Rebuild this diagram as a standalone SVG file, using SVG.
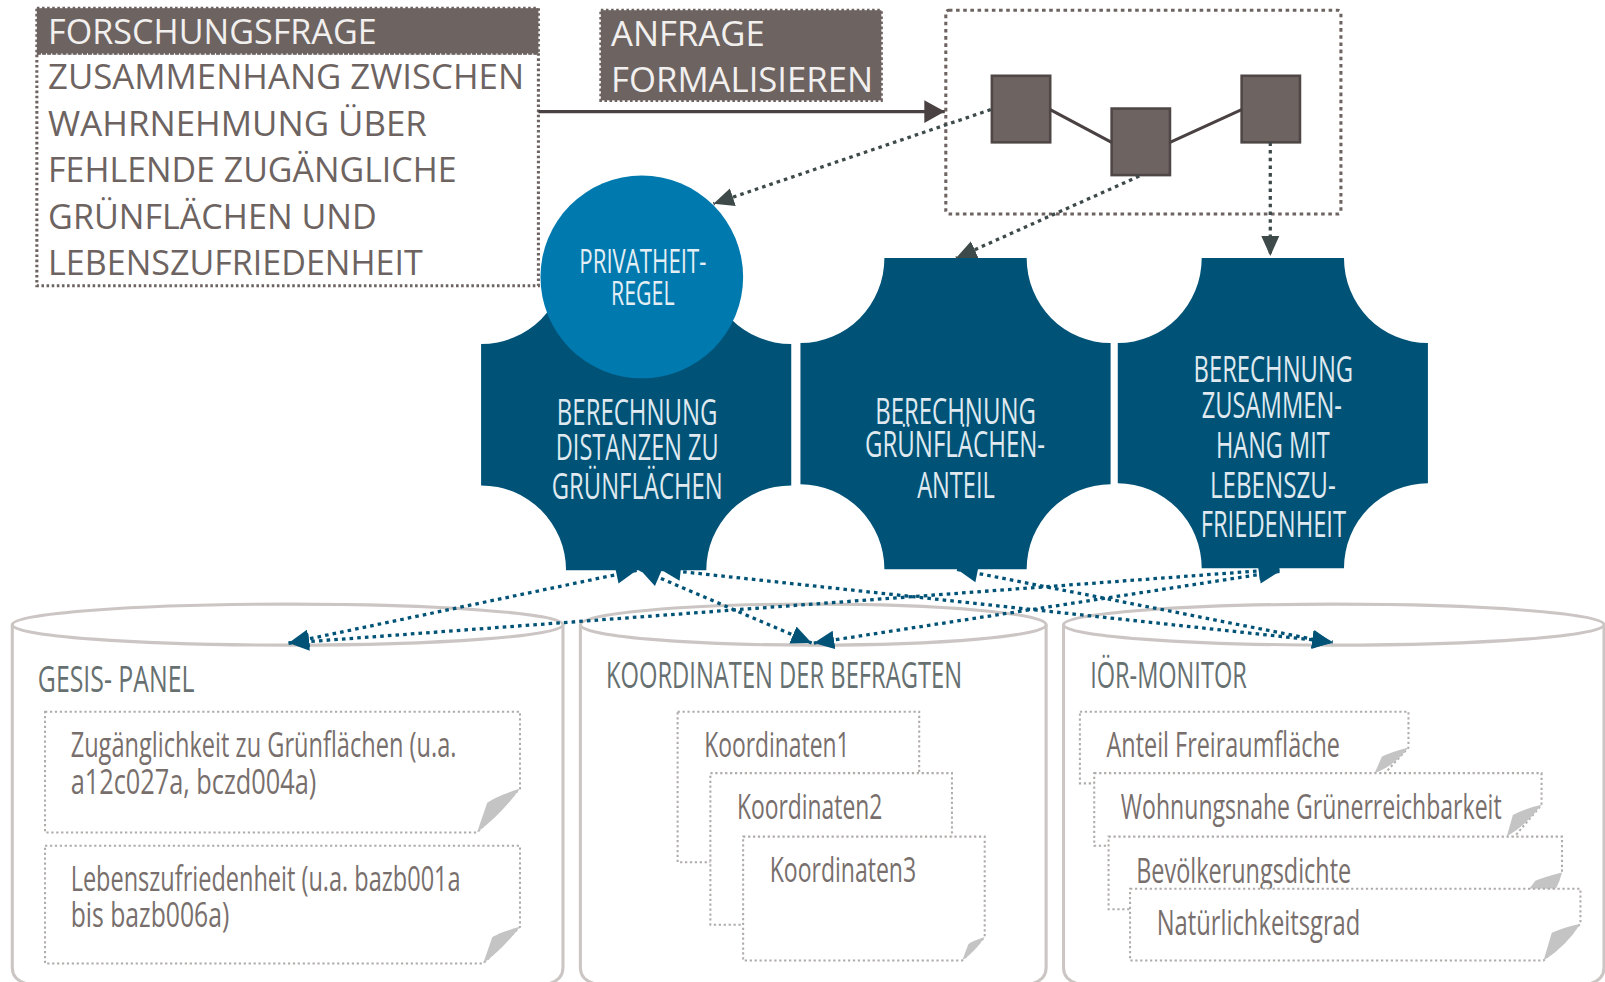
<svg xmlns="http://www.w3.org/2000/svg" width="1605" height="982" viewBox="0 0 1605 982">
<defs>
<marker id="hd" markerUnits="userSpaceOnUse" markerWidth="24" markerHeight="24" refX="20" refY="11" orient="auto"><path d="M0,0L20,11L0,22Z" fill="#4a4242"/></marker>
<marker id="ht" markerUnits="userSpaceOnUse" markerWidth="24" markerHeight="20" refX="20" refY="9" orient="auto"><path d="M0,0L20,9L0,18Z" fill="#3e4a4a"/></marker>
<marker id="hb" markerUnits="userSpaceOnUse" markerWidth="24" markerHeight="20" refX="20" refY="9" orient="auto"><path d="M0,0L20,9L0,18Z" fill="#005377"/></marker>
<marker id="hs" markerUnits="userSpaceOnUse" markerWidth="24" markerHeight="20" refX="0" refY="9" orient="auto"><path d="M20,0L0,9L20,18Z" fill="#005377"/></marker>
</defs>
<style>
text{font-family:"Open Sans","Liberation Sans",sans-serif}
.h{font-size:33px;font-weight:400;fill:#f2f0ef}
.b{font-size:33px;font-weight:400;fill:#6d6361}
.w{font-size:36px;font-weight:400;fill:#dfe9ef}
.s{font-size:32px;font-weight:400;fill:#e4eff5}
.t{font-size:35px;font-weight:400;fill:#667070}
.d{font-size:33px;font-weight:400;fill:#786f6d}
.box{fill:#fff;stroke:#6d6361;stroke-width:3;stroke-dasharray:2.5 2.5}
.hdr{fill:#6d6361;stroke:#6d6361;stroke-width:3;stroke-dasharray:2.5 2.5}
.big{fill:none;stroke:#6d6361;stroke-width:3;stroke-dasharray:3.5 3.5}
.sq{fill:#6d6361;stroke:#4f4646;stroke-width:2.5}
.pl{fill:#005377}
.cy{fill:#fff;stroke:#cbc6c4;stroke-width:3}
.doc{fill:#fff;stroke:#b0acaa;stroke-width:2;stroke-dasharray:2.2 2.6}
.curl{fill:#c4c4c4}
.ln{fill:none;stroke:#4a4242;stroke-width:3}
.dt{fill:none;stroke:#3e4a4a;stroke-width:3.2;stroke-dasharray:3.5 4}
.db{fill:none;stroke:#005377;stroke-width:3.2;stroke-dasharray:3.5 4}
</style>
<rect width="1605" height="982" fill="#fff"/>
<g transform="scale(1.0236,1.024)">
<g id="forschungsfrage">
<rect class="box" x="36" y="52" width="490" height="227"/>
<rect class="hdr" x="36" y="8" width="490" height="44"/>
<text class="h" x="47" y="43" textLength="321" lengthAdjust="spacingAndGlyphs">FORSCHUNGSFRAGE</text>
<text class="b" x="47" y="87" textLength="465" lengthAdjust="spacingAndGlyphs">ZUSAMMENHANG ZWISCHEN</text>
<text class="b" x="47" y="133" textLength="370" lengthAdjust="spacingAndGlyphs">WAHRNEHMUNG ÜBER</text>
<text class="b" x="47" y="178" textLength="399" lengthAdjust="spacingAndGlyphs">FEHLENDE ZUGÄNGLICHE</text>
<text class="b" x="47" y="224" textLength="321" lengthAdjust="spacingAndGlyphs">GRÜNFLÄCHEN UND</text>
<text class="b" x="47" y="269" textLength="366" lengthAdjust="spacingAndGlyphs">LEBENSZUFRIEDENHEIT</text>
</g>
<g id="anfrage">
<rect class="hdr" x="587" y="10" width="274" height="88"/>
<text class="h" x="597" y="45" textLength="150" lengthAdjust="spacingAndGlyphs">ANFRAGE</text>
<text class="h" x="597" y="90" textLength="256" lengthAdjust="spacingAndGlyphs">FORMALISIEREN</text>
</g>
<g id="anfrage-graph">
<rect class="big" x="924" y="10" width="386" height="199" rx="3"/>
<rect class="sq" x="969" y="74" width="57" height="65"/>
<rect class="sq" x="1086" y="106" width="57" height="65"/>
<rect class="sq" x="1213" y="74" width="57" height="65"/>
<path class="ln" d="M1026,107L1086,139M1143,139L1213,107"/>
</g>
<g id="berechnung-distanzen">
<path class="pl" d="M553,253H690A83,83 0 0 0 773,336V474A83,83 0 0 0 690,557H553A83,83 0 0 0 470,474V336A83,83 0 0 0 553,253Z"/>
<text class="w" x="544" y="415" textLength="157" lengthAdjust="spacingAndGlyphs">BERECHNUNG</text>
<text class="w" x="543" y="449" textLength="159" lengthAdjust="spacingAndGlyphs">DISTANZEN ZU</text>
<text class="w" x="539" y="487" textLength="167" lengthAdjust="spacingAndGlyphs">GRÜNFLÄCHEN</text>
</g>
<g id="berechnung-anteil">
<path class="pl" d="M864,252H1003A82,83 0 0 0 1085,335V473A82,83 0 0 0 1003,556H864A82,83 0 0 0 782,473V335A82,83 0 0 0 864,252Z"/>
<text class="w" x="855" y="414" textLength="157" lengthAdjust="spacingAndGlyphs">BERECHNUNG</text>
<text class="w" x="845" y="446" textLength="176" lengthAdjust="spacingAndGlyphs">GRÜNFLÄCHEN-</text>
<text class="w" x="896" y="486" textLength="76" lengthAdjust="spacingAndGlyphs">ANTEIL</text>
</g>
<g id="berechnung-zusammenhang">
<path class="pl" d="M1174,252H1313A82,83 0 0 0 1395,335V472A82,83 0 0 0 1313,555H1174A82,83 0 0 0 1092,472V335A82,83 0 0 0 1174,252Z"/>
<text class="w" x="1166" y="373" textLength="156" lengthAdjust="spacingAndGlyphs">BERECHNUNG</text>
<text class="w" x="1174" y="408" textLength="137" lengthAdjust="spacingAndGlyphs">ZUSAMMEN-</text>
<text class="w" x="1188" y="447" textLength="111" lengthAdjust="spacingAndGlyphs">HANG MIT</text>
<text class="w" x="1182" y="486" textLength="123" lengthAdjust="spacingAndGlyphs">LEBENSZU-</text>
<text class="w" x="1173" y="524" textLength="142" lengthAdjust="spacingAndGlyphs">FRIEDENHEIT</text>
</g>
<g id="privatheit-regel">
<circle cx="627" cy="270.500" r="99" fill="#0079ae"/>
<text class="s" x="566" y="267" textLength="124" lengthAdjust="spacingAndGlyphs">PRIVATHEIT-</text>
<text class="s" x="597" y="298" textLength="62" lengthAdjust="spacingAndGlyphs">REGEL</text>
</g>
<g id="gesis-panel">
<path class="cy" d="M12,610V945Q12,959 32,962H530Q550,959 550,945V610"/>
<ellipse class="cy" cx="281" cy="610" rx="269" ry="20"/>
<text class="t" x="37" y="676" textLength="153" lengthAdjust="spacingAndGlyphs">GESIS- PANEL</text>
<path class="doc" d="M44,695H508V770L466,813H44Z"/>
<path class="curl" d="M508,770Q484,778 476,784L466,813Q490,795 508,770Z"/>
<text class="d" x="69" y="739" textLength="377" lengthAdjust="spacingAndGlyphs">Zugänglichkeit zu Grünflächen (u.a.</text>
<text class="d" x="69" y="775" textLength="240" lengthAdjust="spacingAndGlyphs">a12c027a, bczd004a)</text>
<path class="doc" d="M44,826H508V905L472,941H44Z"/>
<path class="curl" d="M508,905Q490,910 481,915L472,941Q492,926 508,905Z"/>
<text class="d" x="69" y="870" textLength="381" lengthAdjust="spacingAndGlyphs">Lebenszufriedenheit (u.a. bazb001a</text>
<text class="d" x="69" y="905" textLength="155" lengthAdjust="spacingAndGlyphs">bis bazb006a)</text>
</g>
<g id="koordinaten">
<path class="cy" d="M567,610V945Q567,959 587,962H1002Q1022,959 1022,945V610"/>
<ellipse class="cy" cx="794.500" cy="610" rx="227.500" ry="20"/>
<text class="t" x="592" y="672" textLength="348" lengthAdjust="spacingAndGlyphs">KOORDINATEN DER BEFRAGTEN</text>
<path class="doc" d="M662,695H898V842H662Z"/>
<text class="d" x="688" y="739" textLength="142" lengthAdjust="spacingAndGlyphs">Koordinaten1</text>
<path class="doc" d="M694,755H930V903H694Z"/>
<text class="d" x="720" y="800" textLength="142" lengthAdjust="spacingAndGlyphs">Koordinaten2</text>
<path class="doc" d="M726,817H962V915L940,938H726Z"/>
<path class="curl" d="M962,915Q950,919 946,922L940,938Q953,929 962,915Z"/>
<text class="d" x="752" y="861" textLength="143" lengthAdjust="spacingAndGlyphs">Koordinaten3</text>
</g>
<g id="ioer-monitor">
<path class="cy" d="M1039,610V945Q1039,959 1059,962H1547Q1567,959 1567,945V610"/>
<ellipse class="cy" cx="1303" cy="610" rx="264" ry="20"/>
<text class="t" x="1065" y="672" textLength="153" lengthAdjust="spacingAndGlyphs">IÖR-MONITOR</text>
<path class="doc" d="M1055,695H1376V730L1344,765H1055Z"/>
<path class="curl" d="M1376,730Q1357,735 1350,739L1343,755Q1362,748 1376,730Z"/>
<text class="d" x="1081" y="739" textLength="228" lengthAdjust="spacingAndGlyphs">Anteil Freiraumfläche</text>
<path class="doc" d="M1069,755H1506V786L1472,826H1069Z"/>
<path class="curl" d="M1506,786Q1488,790 1478,796L1472,817Q1492,805 1506,786Z"/>
<text class="d" x="1095" y="800" textLength="372" lengthAdjust="spacingAndGlyphs">Wohnungsnahe Grünerreichbarkeit</text>
<path class="doc" d="M1083,817H1526V852L1494,888H1083Z"/>
<path class="curl" d="M1526,852Q1510,856 1500,860L1494,868H1520Q1524,860 1526,852Z"/>
<text class="d" x="1110" y="862" textLength="210" lengthAdjust="spacingAndGlyphs">Bevölkerungsdichte</text>
<path class="doc" d="M1104,868H1544V902L1508,938H1104Z"/>
<path class="curl" d="M1544,902Q1526,906 1516,911L1508,938Q1530,924 1544,902Z"/>
<text class="d" x="1130" y="913" textLength="199" lengthAdjust="spacingAndGlyphs">Natürlichkeitsgrad</text>
</g>
<g id="connectors">
<path class="ln" d="M526,109H923" marker-end="url(#hd)"/>
<path class="dt" d="M968,107L697,199" marker-end="url(#ht)"/>
<path class="dt" d="M1113,172L934,252" marker-end="url(#ht)"/>
<path class="dt" d="M1241,139V250" marker-end="url(#ht)"/>
<path class="db" d="M622,557L282,628" marker-start="url(#hs)" marker-end="url(#hb)"/>
<path class="db" d="M625,556L793,628" marker-start="url(#hs)" marker-end="url(#hb)"/>
<path class="db" d="M645,556L1302,627" marker-start="url(#hs)" marker-end="url(#hb)"/>
<path class="db" d="M935,556L1302,628" marker-start="url(#hs)" marker-end="url(#hb)"/>
<path class="db" d="M1250,556L282,628" marker-start="url(#hs)" marker-end="url(#hb)"/>
<path class="db" d="M1250,558L795,628" marker-start="url(#hs)" marker-end="url(#hb)"/>
</g>
</g>
</svg>
